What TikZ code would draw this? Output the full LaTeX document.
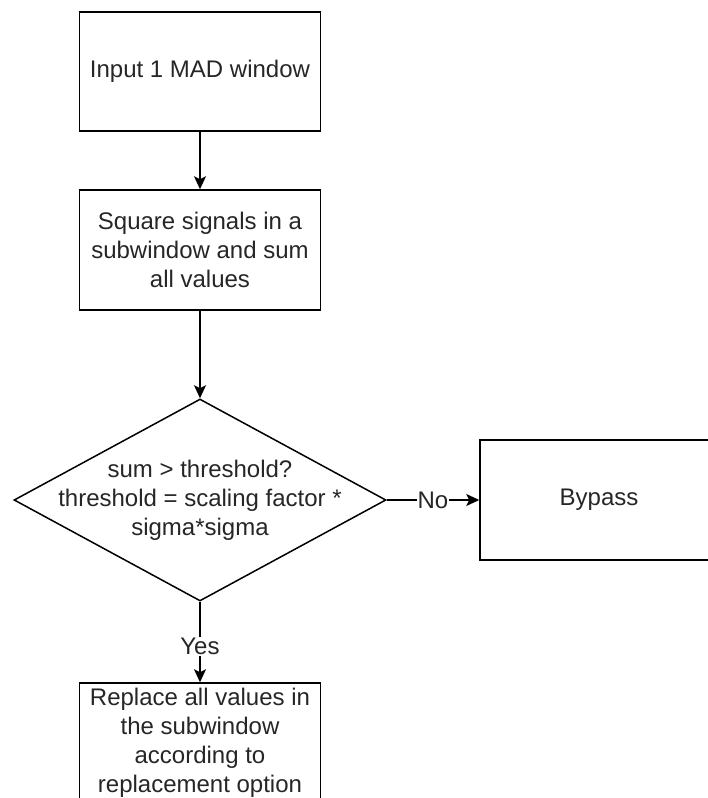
\documentclass[tikz,border=0pt]{standalone}
\usepackage{fontspec}
\setmainfont{Liberation Sans}
\usetikzlibrary{shapes.geometric,arrows.meta}
\begin{document}
\begin{tikzpicture}[x=1pt,y=-1pt,
  txt/.style={font=\fontsize{24}{29}\selectfont, text=black!85, align=center},
  stepbox/.style={txt, draw=black, line width=1.5pt, rectangle, inner sep=0pt,
    minimum width=241pt, minimum height=120pt},
  decision/.style={draw=black, line width=1.5pt, diamond, inner sep=0pt,
    minimum width=372pt, minimum height=202pt},
  arr/.style={line width=1.5pt, -{Stealth[length=13pt,width=12pt,inset=3pt]}},
  lbl/.style={txt, fill=white, inner sep=1pt}]
\useasboundingbox (0,0) rectangle (708,798);
\clip (0,0) rectangle (708,798);

% process steps
\node[stepbox, minimum height=119pt] (input) at (200,71.5) {Input 1 MAD window};
\node[stepbox] (square) at (200,250) {Square signals in a\\subwindow and sum\\all values};

% threshold test
\node[decision] (test) at (200,500) {};
\node[txt] (testtext) at (test.center) {sum \textgreater{} threshold?\\threshold = scaling factor *\\sigma*sigma};

% outcomes
\node[stepbox, minimum width=238pt] (bypass) at (599,500) {Bypass};
\node[stepbox] (replace) at (200,743) {Replace all values in\\the subwindow\\according to\\replacement option};

% connectors
\draw[arr] (input.south) -- (square.north);
\draw[arr] (square.south) -- (test.north);
\draw[arr] (test.east) -- node[lbl] (nolbl) {No} (bypass.west);
\draw[arr] (test.south) -- node[lbl, pos=0.56] (yeslbl) {Yes} (replace.north);
\end{tikzpicture}
\end{document}
